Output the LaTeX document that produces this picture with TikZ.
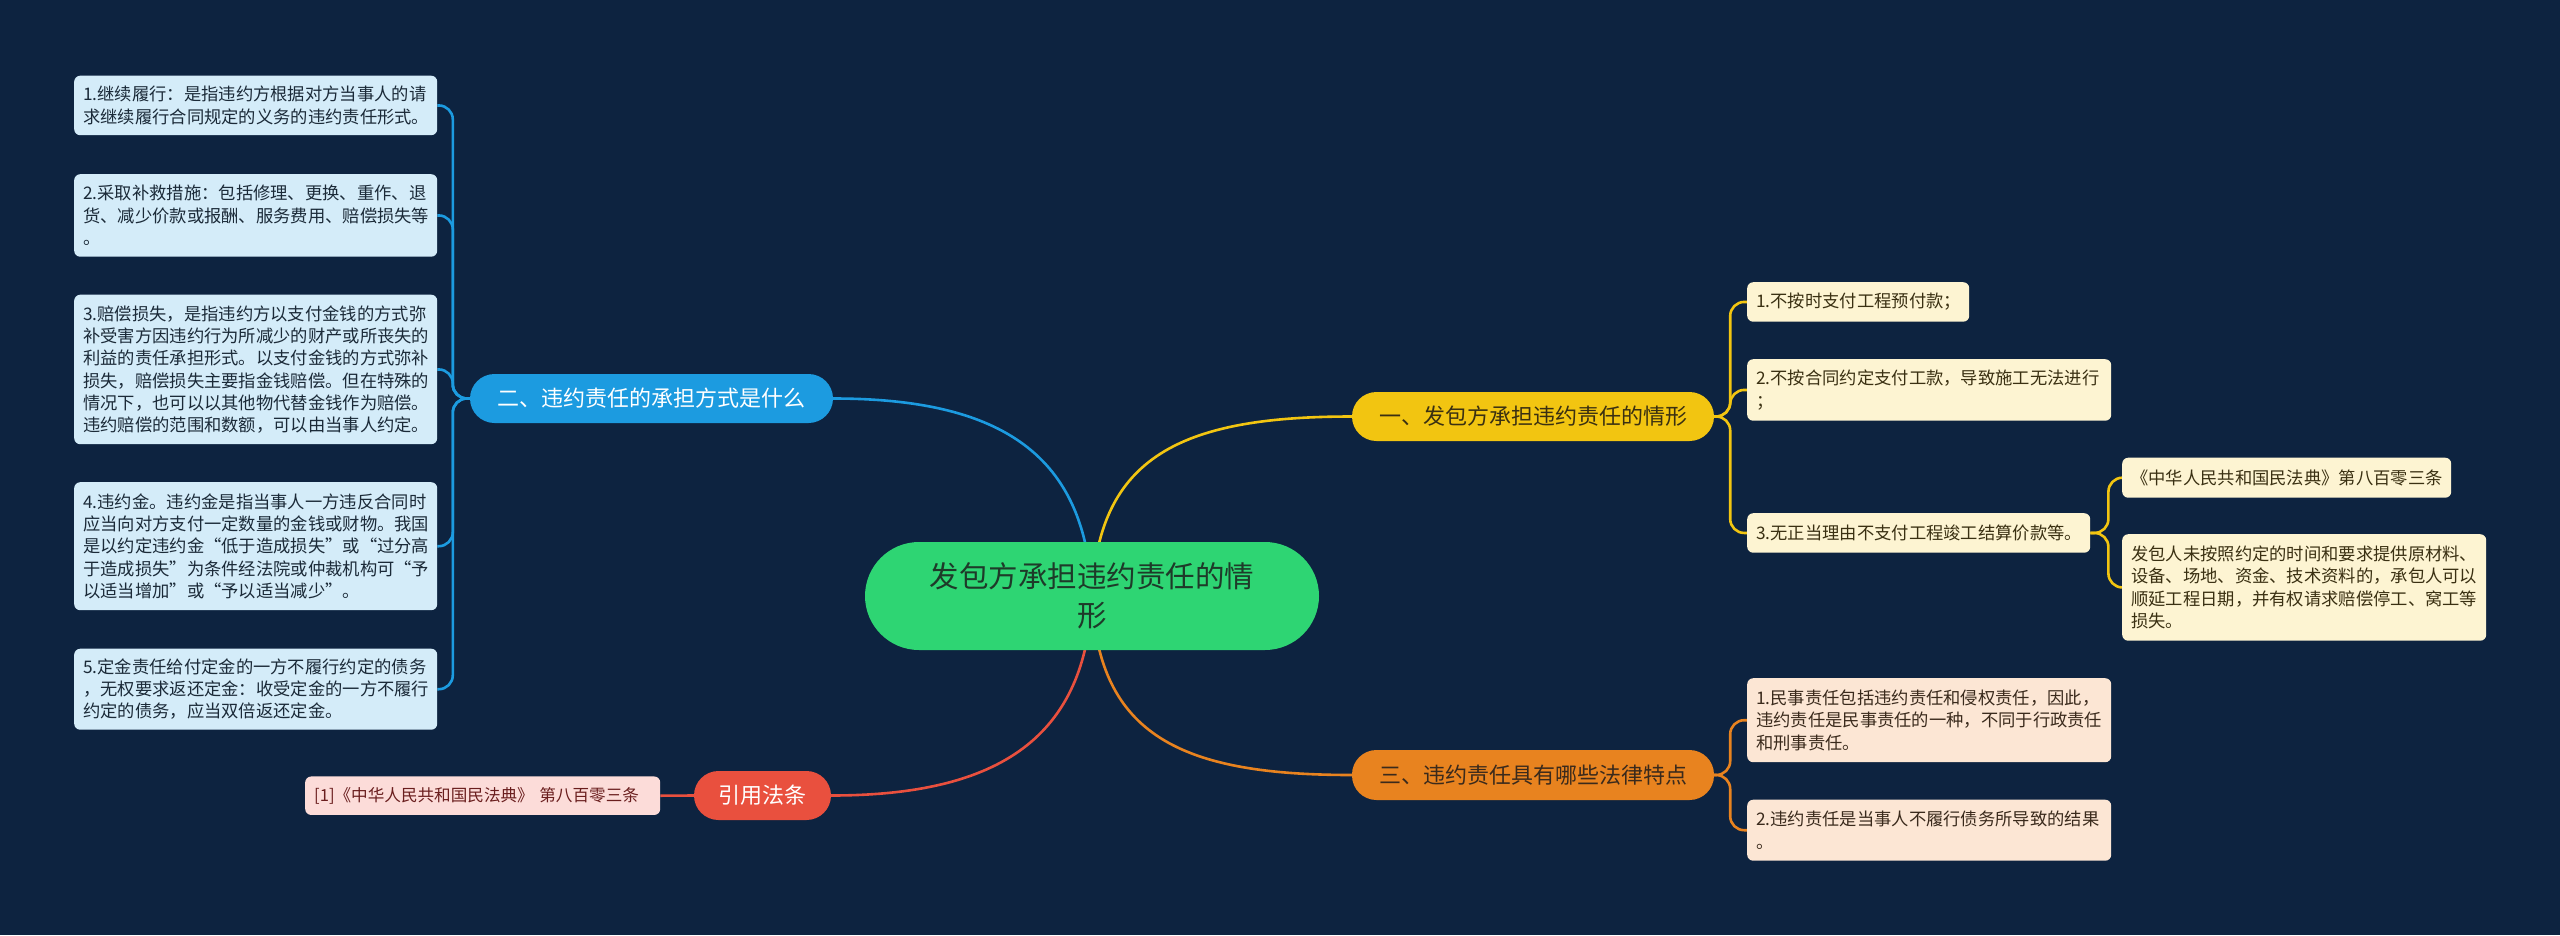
\documentclass[tikz,border=0pt]{standalone}
\usepackage{fontspec}
\usepackage{tikz}
\newfontfamily\cjk{Noto Sans CJK SC}
\definecolor{night}{HTML}{0D2340}
\definecolor{leafgreen}{HTML}{2ED573}
\definecolor{leafink}{HTML}{1E3A29}
\definecolor{sky}{HTML}{1C9BE0}
\definecolor{skypale}{HTML}{D4ECF9}
\definecolor{skyink}{HTML}{1B2A38}
\definecolor{gold}{HTML}{F2C511}
\definecolor{goldpale}{HTML}{FDF4D2}
\definecolor{goldink}{HTML}{3A3012}
\definecolor{rust}{HTML}{E8831F}
\definecolor{rustpale}{HTML}{FCE6D4}
\definecolor{rustink}{HTML}{3A2A1C}
\definecolor{coral}{HTML}{E9503E}
\definecolor{coralpale}{HTML}{FCDCD9}
\definecolor{coralink}{HTML}{6A1E1E}
\pgfdeclarelayer{canvas}
\pgfdeclarelayer{links}
\pgfsetlayers{canvas,links,main}
\tikzset{
  topic/.style={rectangle, rounded corners=54pt, fill=leafgreen, text=leafink, align=center,
                minimum width=454pt, minimum height=108pt, inner sep=0pt,
                font=\cjk\fontsize{29.5}{38.5}\selectfont},
  branch/.style={rectangle, rounded corners=24.5pt, minimum height=49pt, inner sep=0pt,
                 font=\cjk\fontsize{22}{26}\selectfont},
  skybranch/.style={branch, fill=sky, text=white},
  goldbranch/.style={branch, fill=gold, text=goldink},
  rustbranch/.style={branch, fill=rust, text=rustink},
  coralbranch/.style={branch, fill=coral, text=white},
  leaf/.style={rectangle, rounded corners=6pt, align=left, anchor=north west,
               inner xsep=9pt, inner ysep=0pt, font=\cjk\fontsize{17.3}{22.3}\selectfont},
  skyleaf/.style={leaf, fill=skypale, text=skyink},
  goldleaf/.style={leaf, fill=goldpale, text=goldink},
  rustleaf/.style={leaf, fill=rustpale, text=rustink},
  coralleaf/.style={leaf, fill=coralpale, text=coralink, font=\cjk\fontsize{16.6}{22.3}\selectfont},
  link/.style={line width=2.6pt, rounded corners=14pt},
  skylink/.style={link, draw=sky},
  goldlink/.style={link, draw=gold},
  rustlink/.style={link, draw=rust},
  corallink/.style={link, draw=coral}
}

\begin{document}
\begin{tikzpicture}[x=1pt, y=-1pt]
 \useasboundingbox (0,0) rectangle (2560,935);
 \begin{pgfonlayer}{canvas}
  \fill[night] (0,0) rectangle (2560,935);
 \end{pgfonlayer}
 \node[topic] (ctr) at (1092,596) {发包方承担违约责任的情\\形};
 \node[goldbranch, minimum width=362pt] (b1) at (1533,416.5) {一、发包方承担违约责任的情形};
 \node[skybranch, minimum width=363pt] (b2) at (651.5,398.5) {二、违约责任的承担方式是什么};
 \node[rustbranch, minimum width=362pt, minimum height=50pt] (b3) at (1533,775) {三、违约责任具有哪些法律特点};
 \node[coralbranch, minimum width=137pt] (b4) at (762.5,795.5) {引用法条};
 \node[skyleaf, text width=345pt, minimum height=59.5pt] (l1) at (74,75.5)
   {1.继续履行：是指违约方根据对方当事人的请\\求继续履行合同规定的义务的违约责任形式。};
 \node[skyleaf, text width=345pt, minimum height=82.5pt] (l2) at (74,174)
   {2.采取补救措施：包括修理、更换、重作、退\\货、减少价款或报酬、服务费用、赔偿损失等\\。};
 \node[skyleaf, text width=345pt, minimum height=149.5pt] (l3) at (74,294.5)
   {3.赔偿损失，是指违约方以支付金钱的方式弥\\补受害方因违约行为所减少的财产或所丧失的\\利益的责任承担形式。以支付金钱的方式弥补\\损失，赔偿损失主要指金钱赔偿。但在特殊的\\情况下，也可以以其他物代替金钱作为赔偿。\\违约赔偿的范围和数额，可以由当事人约定。};
 \node[skyleaf, text width=345pt, minimum height=128pt] (l4) at (74,482)
   {4.违约金。违约金是指当事人一方违反合同时\\应当向对方支付一定数量的金钱或财物。我国\\是以约定违约金“低于造成损失”或“过分高\\于造成损失”为条件经法院或仲裁机构可“予\\以适当增加”或“予以适当减少”。};
 \node[skyleaf, text width=345pt, minimum height=81pt] (l5) at (74,648.5)
   {5.定金责任给付定金的一方不履行约定的债务\\，无权要求返还定金：收受定金的一方不履行\\约定的债务，应当双倍返还定金。};
 \node[goldleaf, text width=204pt, minimum height=39.5pt] (y1) at (1747,282) {1.不按时支付工程预付款；};
 \node[goldleaf, text width=346pt, minimum height=61.5pt] (y2) at (1747,359)
   {2.不按合同约定支付工款，导致施工无法进行\\；};
 \node[goldleaf, text width=325pt, minimum height=39.5pt] (y3) at (1747,513) {3.无正当理由不支付工程竣工结算价款等。};
 \node[goldleaf, text width=311pt, minimum height=40pt] (y3a) at (2122,457.5) {《中华人民共和国民法典》第八百零三条};
 \node[goldleaf, text width=346pt, minimum height=106.5pt] (y3b) at (2122,534)
   {发包人未按照约定的时间和要求提供原材料、\\设备、场地、资金、技术资料的，承包人可以\\顺延工程日期，并有权请求赔偿停工、窝工等\\损失。};
 \node[rustleaf, text width=346pt, minimum height=84pt] (o1) at (1747,678)
   {1.民事责任包括违约责任和侵权责任，因此，\\违约责任是民事责任的一种，不同于行政责任\\和刑事责任。};
 \node[rustleaf, text width=346pt, minimum height=61pt] (o2) at (1747,799.5)
   {2.违约责任是当事人不履行债务所导致的结果\\。};
 \node[coralleaf, text width=337pt, minimum height=38.5pt] (r1) at (305,776.25) {[1]《中华人民共和国民法典》~第八百零三条};
 \begin{pgfonlayer}{links}
  \draw[skylink](b2.east) .. controls +(170,0) and +(-6,-140) .. (ctr.center);
  \draw[goldlink](ctr.center) .. controls +(6,-140) and +(-170,0) .. (b1.west);
  \draw[rustlink](ctr.center) .. controls +(6,140) and +(-170,0) .. (b3.west);
  \draw[corallink](ctr.center) .. controls +(-6,140) and +(170,0) .. (b4.east);
  \draw[skylink](b2.west) -- ++(-17,0) |- (l1.east);
  \draw[skylink](b2.west) -- ++(-17,0) |- (l2.east);
  \draw[skylink](b2.west) -- ++(-17,0) |- (l3.east);
  \draw[skylink](b2.west) -- ++(-17,0) |- (l4.east);
  \draw[skylink](b2.west) -- ++(-17,0) |- (l5.east);
  \draw[goldlink](b1.east) -- ++(16,0) |- (y1.west);
  \draw[goldlink](b1.east) -- ++(16,0) |- (y2.west);
  \draw[goldlink](b1.east) -- ++(16,0) |- (y3.west);
  \draw[goldlink](y3.east) -- ++(18,0) |- (y3a.west);
  \draw[goldlink](y3.east) -- ++(18,0) |- (y3b.west);
  \draw[rustlink](b3.east) -- ++(16,0) |- (o1.west);
  \draw[rustlink](b3.east) -- ++(16,0) |- (o2.west);
  \draw[corallink](b4.west) -- (r1.east);
 \end{pgfonlayer}
\end{tikzpicture}
\end{document}
